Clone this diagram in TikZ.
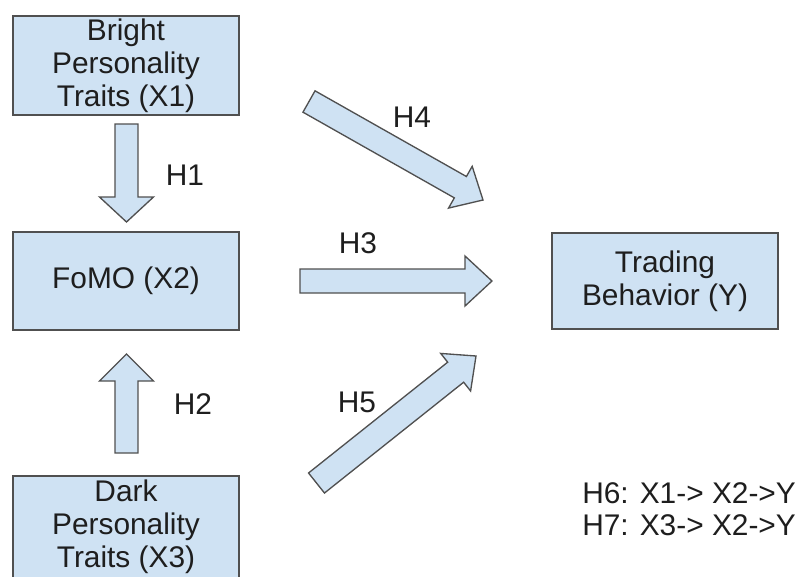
\documentclass[tikz,border=0pt]{standalone}
\usepackage{fontspec}
\setmainfont{Liberation Sans}
\usetikzlibrary{calc}
\definecolor{boxfill}{RGB}{207,226,243}
\definecolor{boxline}{RGB}{80,80,80}
\definecolor{ink}{RGB}{30,30,30}
\tikzset{
  box/.style={draw=boxline, fill=boxfill, line width=1.1pt, inner sep=0pt,
    align=center, text=ink, font=\fontsize{22.4}{24.75}\selectfont},
  arrowbody/.style={draw=boxline, fill=boxfill, line width=1pt, line join=miter},
  hlabel/.style={text=ink, inner sep=0pt, font=\fontsize{22.4}{24}\selectfont},
}
% block arrow: #1 name, #2 tail, #3 tip, #4 shaft half-width, #5 head half-width, #6 head length
\newcommand{\blockarrow}[6]{%
  \coordinate (#1b) at ($(#3)!#6!(#2)$);
  \draw[arrowbody] ($(#2)!#4!90:(#3)$) -- ($(#1b)!#4!90:(#3)$) -- ($(#1b)!#5!90:(#3)$)
    -- (#3) -- ($(#1b)!#5!-90:(#3)$) -- ($(#1b)!#4!-90:(#3)$) -- ($(#2)!#4!-90:(#3)$) -- cycle;
}
\begin{document}
\begin{tikzpicture}[x=0.75pt, y=-0.75pt]
  \useasboundingbox (0,0) rectangle (800,576);

  % boxes
  \node[box, minimum width=169.5pt, minimum height=74.25pt] (x1) at (126,65.5) {Bright\\Personality\\Traits (X1)};
  \node[box, minimum width=169.5pt, minimum height=73.5pt] (x2) at (126,281) {FoMO (X2)};
  \node[box, minimum width=169.5pt, minimum height=76.5pt] (x3) at (126,527) {Dark\\Personality\\Traits (X3)};
  \node[box, minimum width=169.5pt, minimum height=72pt] (y) at (665,281) {Trading\\Behavior (Y)};

  % arrow end points
  \coordinate (h1t) at (126.5,124);  \coordinate (h1p) at (126.5,222);
  \coordinate (h2t) at (126.5,453);  \coordinate (h2p) at (126.5,354);
  \coordinate (h3t) at (300,281);    \coordinate (h3p) at (492,281);
  \coordinate (h4t) at (309,101.5);  \coordinate (h4p) at (483,200);
  \coordinate (h5t) at (316.5,483);  \coordinate (h5p) at (476,356);

  \blockarrow{a1}{h1t}{h1p}{8.6pt}{20.25pt}{18.75pt}
  \blockarrow{a2}{h2t}{h2p}{8.6pt}{20.25pt}{20.25pt}
  \blockarrow{a3}{h3t}{h3p}{9pt}{18.75pt}{20.25pt}
  \blockarrow{a4}{h4t}{h4p}{9.2pt}{18pt}{19.5pt}
  \blockarrow{a5}{h5t}{h5p}{9.6pt}{18pt}{19.5pt}

  % hypothesis labels
  \node[hlabel] (l1) at (185,175) {H1};
  \node[hlabel] (l2) at (193,404) {H2};
  \node[hlabel] (l3) at (358,243) {H3};
  \node[hlabel] (l4) at (412,117) {H4};
  \node[hlabel] (l5) at (357,402) {H5};

  \node[hlabel, anchor=west, align=left] (med) at (582,509)
    {H6: X1-> X2->Y\\H7: X3-> X2->Y};
\end{tikzpicture}
\end{document}
